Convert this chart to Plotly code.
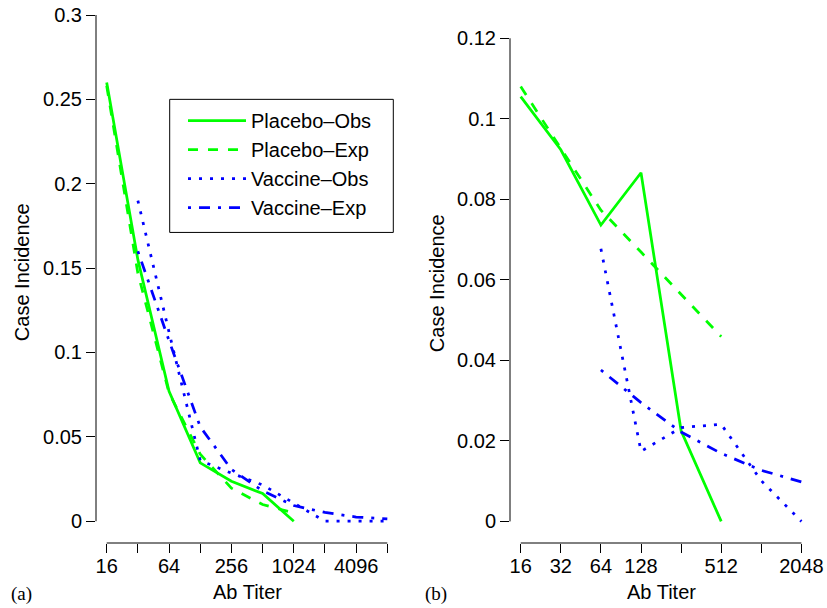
import numpy as np
import plotly.graph_objects as go

# ---------------- data ----------------
# panel (a)
titer_a_placebo = [16, 32, 64, 128, 256, 512, 1024]
placebo_obs_a = [0.260, 0.155, 0.077, 0.0346, 0.0237, 0.0164, 0.0]
placebo_exp_a = [0.258, 0.147, 0.076, 0.0397, 0.0196, 0.0099, 0.0049]
titer_a_vaccine = [32, 64, 128, 256, 512, 1024, 2048, 4096, 8192]
vaccine_obs_a = [0.190, 0.112, 0.036, 0.0285, 0.0215, 0.011, 0.0, 0.0, 0.0]
vaccine_exp_a = [0.160, 0.107, 0.056, 0.0307, 0.018, 0.0093, 0.0052, 0.0025, 0.0014]

# panel (b)
titer_b_placebo = [16, 32, 64, 128, 256, 512]
placebo_obs_b = [0.1055, 0.0923, 0.0736, 0.0866, 0.0225, 0.0]
placebo_exp_b = [0.108, 0.0925, 0.0773, 0.0669, 0.0564, 0.0459]
titer_b_vaccine = [64, 128, 256, 512, 1024, 2048]
vaccine_obs_b = [0.0677, 0.0174, 0.0233, 0.0241, 0.0101, 0.0]
vaccine_exp_b = [0.0376, 0.0295, 0.0222, 0.0169, 0.0127, 0.0098]

# axis ticks
xtick_a = [16, 32, 64, 128, 256, 512, 1024, 2048, 4096, 8192]
xlab_a = ["16", "", "64", "", "256", "", "1024", "", "4096", ""]
xtick_b = [16, 32, 64, 128, 256, 512, 1024, 2048]
xlab_b = ["16", "32", "64", "128", "", "512", "", "2048"]
ytick_a = [0, 0.05, 0.1, 0.15, 0.2, 0.25, 0.3]
ylab_a = ["0", "0.05", "0.1", "0.15", "0.2", "0.25", "0.3"]
ytick_b = [0, 0.02, 0.04, 0.06, 0.08, 0.1, 0.12]
ylab_b = ["0", "0.02", "0.04", "0.06", "0.08", "0.1", "0.12"]

names = ["Placebo\u2013Obs", "Placebo\u2013Exp", "Vaccine\u2013Obs", "Vaccine\u2013Exp"]

# ---------------- style ----------------
GREEN = "#00FF00"
BLUE = "#0000FF"
LW = 2.75
DASHES = ["solid", "10px,10px", "3px,8px", "3px,8px,11px,8px"]
COLORS = [GREEN, GREEN, BLUE, BLUE]
SANS = "Liberation Sans, Arial, Helvetica, sans-serif"
SERIF = "Liberation Serif, Times New Roman, serif"
FS = 20

lg = np.log2

fig = go.Figure()

series_a = [
    (titer_a_placebo, placebo_obs_a),
    (titer_a_placebo, placebo_exp_a),
    (titer_a_vaccine, vaccine_obs_a),
    (titer_a_vaccine, vaccine_exp_a),
]
series_b = [
    (titer_b_placebo, placebo_obs_b),
    (titer_b_placebo, placebo_exp_b),
    (titer_b_vaccine, vaccine_obs_b),
    (titer_b_vaccine, vaccine_exp_b),
]

for i, (x, y) in enumerate(series_a):
    fig.add_trace(go.Scatter(
        x=lg(np.array(x, dtype=float)), y=y, mode="lines", name=names[i],
        line=dict(color=COLORS[i], width=LW, dash=DASHES[i]),
        xaxis="x", yaxis="y", showlegend=True,
    ))
for i, (x, y) in enumerate(series_b):
    fig.add_trace(go.Scatter(
        x=lg(np.array(x, dtype=float)), y=y, mode="lines", name=names[i],
        line=dict(color=COLORS[i], width=LW, dash=DASHES[i]),
        xaxis="x2", yaxis="y2", showlegend=False,
    ))

# page body margin is removed by post_script, so figure pixels == reference pixels
W, H = 827, 608
PLOT_L, PLOT_R, PLOT_T, PLOT_B = 96, 813, 0, 542.7   # reference pixel coords
ML = PLOT_L
MR = W - PLOT_R
MT = PLOT_T
MB = H - PLOT_B
PW = W - ML - MR
PH = H - MT - MB


def px2paper_x(px):
    return (px - ML) / PW


def px2paper_y(py):
    return (PH - (py - MT)) / PH


def ax_common():
    return dict(showgrid=False, zeroline=False, showline=False, automargin=False,
                ticks="outside", ticklen=9, tickwidth=1, tickcolor="black",
                ticklabeloverflow="allow",
                tickfont=dict(family=SANS, size=FS, color="black"))


fig.update_layout(
    template="none",
    width=W, height=H,
    margin=dict(l=ML, r=MR, t=MT, b=MB, pad=0, autoexpand=False),
    plot_bgcolor="white", paper_bgcolor="white",
    xaxis=dict(domain=[0, 303 / PW], range=[3.657, 13.375], anchor="y",
               tickvals=lg(np.array(xtick_a, dtype=float)), ticktext=xlab_a,
               ticklabelstandoff=-4, **ax_common()),
    yaxis=dict(domain=[0, 1], range=[-0.0129, 0.3089], anchor="x",
               tickvals=ytick_a, ticktext=ylab_a, **ax_common()),
    xaxis2=dict(domain=[(510 - PLOT_L) / PW, 1], range=[3.733, 11.289], anchor="y2",
                tickvals=lg(np.array(xtick_b, dtype=float)), ticktext=xlab_b,
                ticklabelstandoff=-4, **ax_common()),
    yaxis2=dict(domain=[0, 1], range=[-0.00536, 0.1295], anchor="x2",
                tickvals=ytick_b, ticktext=ylab_b, **ax_common()),
    legend=dict(x=px2paper_x(183), y=px2paper_y(101), xanchor="left", yanchor="top",
                borderwidth=0, bgcolor="rgba(0,0,0,0)",
                font=dict(family=SANS, size=FS, color="black"),
                itemwidth=58, tracegroupgap=0),
    showlegend=True,
)

# R-style detached axis lines and legend frame
shapes = []
shapes.append(dict(type="line", xref="x domain", yref="y", x0=0, x1=0,
                   y0=min(ytick_a), y1=max(ytick_a), line=dict(color="black", width=1)))
shapes.append(dict(type="line", xref="x", yref="y domain", x0=lg(min(xtick_a)), x1=lg(max(xtick_a)),
                   y0=0, y1=0, line=dict(color="black", width=1)))
shapes.append(dict(type="line", xref="x2 domain", yref="y2", x0=0, x1=0,
                   y0=min(ytick_b), y1=max(ytick_b), line=dict(color="black", width=1)))
shapes.append(dict(type="line", xref="x2", yref="y2 domain", x0=lg(min(xtick_b)), x1=lg(max(xtick_b)),
                   y0=0, y1=0, line=dict(color="black", width=1)))
shapes.append(dict(type="rect", xref="paper", yref="paper",
                   x0=px2paper_x(169.7), x1=px2paper_x(393.3),
                   y0=px2paper_y(232.3), y1=px2paper_y(99.3),
                   line=dict(color="black", width=1), layer="below"))
fig.update_layout(shapes=shapes)


def label(text, px, py, family=SANS, size=FS, angle=0):
    return dict(text=text, x=px2paper_x(px), y=px2paper_y(py), xref="paper", yref="paper",
                xanchor="center", yanchor="middle", textangle=angle, showarrow=False,
                font=dict(family=family, size=size, color="black"))


ann = [
    label("Case Incidence", 22, 272, angle=-90),
    label("Case Incidence", 437, 283, angle=-90),
    label("Ab Titer", 247, 592),
    label("Ab Titer", 661.5, 592),
    label("(a)", 21, 594, family=SERIF, size=19),
    label("(b)", 436, 594, family=SERIF, size=19),
]
fig.update_layout(annotations=ann)

fig.write_html("out.html",
               config={"displayModeBar": False},
               post_script="document.body.style.margin='0';document.body.style.overflow='hidden';")
